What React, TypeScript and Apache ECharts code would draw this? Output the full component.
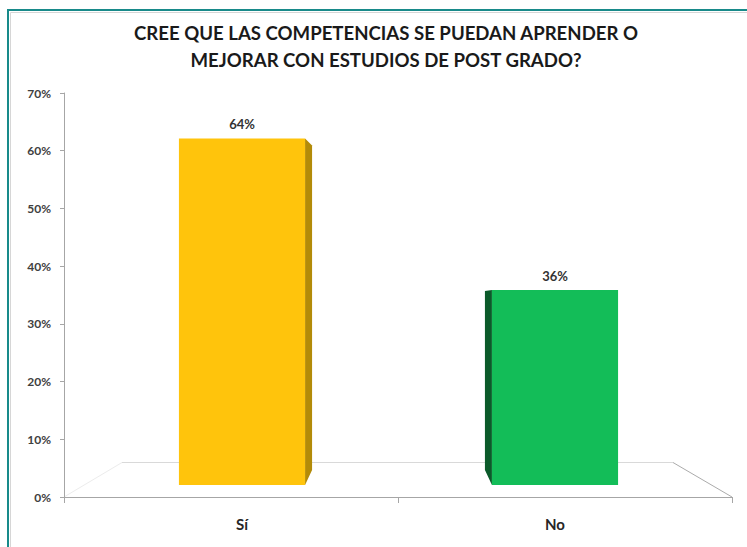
import React, { useEffect, useRef } from "react";
import * as echarts from "echarts";

// Survey answers and their shares (%)
const categories = ["Sí", "No"];
const shares = [64, 36];
const yTicks = [0, 10, 20, 30, 40, 50, 60, 70];

// Front / side face colours for each bar
const frontColors = ["#FFC40C", "#13BD58"];
const sideColors = ["#B38B08", "#0B5A2A"];

const titleText = "CREE QUE LAS COMPETENCIAS SE PUEDAN APRENDER O\nMEJORAR CON ESTUDIOS DE POST GRADO?";

export default function App() {
  const ref = useRef<HTMLDivElement>(null);

  useEffect(() => {
    if (!ref.current) return;
    const chart = echarts.init(ref.current, undefined, { renderer: "svg" });
    const font = "Lato, 'Open Sans', sans-serif";

    const option: any = {
      animation: false,
      backgroundColor: "#ffffff",
      title: {
        text: titleText,
        left: 381,
        top: 14,
        textAlign: "center",
        textStyle: {
          fontFamily: font,
          fontSize: 18.6,
          fontWeight: "bold",
          color: "#1a1a1a",
          lineHeight: 27,
        },
      },
      grid: [
        // visible axes (0% .. 70%)
        { left: 64, right: 15, top: 93, bottom: 50 },
        // bars, drawn in a slightly receding frame for the 3D look
        { left: 85.5, right: 35.5, top: 106, bottom: 62 },
      ],
      xAxis: [
        {
          type: "category",
          gridIndex: 0,
          data: categories,
          axisLine: { lineStyle: { color: "#a6a6a6", width: 1 } },
          axisTick: { show: true, length: 6, lineStyle: { color: "#a6a6a6" } },
          axisLabel: { show: false },
          splitLine: { show: false },
        },
        {
          type: "category",
          gridIndex: 1,
          data: categories,
          axisLine: { show: false },
          axisTick: { show: false },
          axisLabel: {
            margin: 31,
            fontFamily: font,
            fontSize: 15,
            fontWeight: "bold",
            color: "#262626",
          },
        },
      ],
      yAxis: [
        {
          type: "value",
          gridIndex: 0,
          min: yTicks[0],
          max: yTicks[yTicks.length - 1],
          interval: 10,
          axisLine: { show: true, lineStyle: { color: "#a6a6a6", width: 1 } },
          axisTick: { show: true, length: 4, lineStyle: { color: "#a6a6a6" } },
          splitLine: { show: false },
          axisLabel: {
            formatter: "{value}%",
            margin: 13,
            fontFamily: font,
            fontSize: 12,
            fontWeight: "bold",
            color: "#404040",
          },
        },
        {
          type: "value",
          gridIndex: 1,
          min: 0,
          max: 70,
          show: false,
          splitLine: { show: false },
        },
      ],
      graphic: [
        // frame
        {
          type: "rect",
          z: -10,
          shape: { x: 8, y: 10, width: 800, height: 600 },
          style: { fill: "none", stroke: "#188a8a", lineWidth: 2 },
        },
        {
          type: "polyline",
          z: -10,
          shape: { points: [[10.5, 600], [10.5, 12.5], [800, 12.5]] },
          style: { fill: "none", stroke: "#d6d6d6", lineWidth: 1 },
        },
        // floor of the 3D plot area
        {
          type: "polyline",
          z: -5,
          shape: { points: [[122, 462.5], [673, 462.5]] },
          style: { fill: "none", stroke: "#d9d9d9", lineWidth: 1 },
        },
        {
          type: "line",
          z: -5,
          shape: { x1: 673, y1: 462.5, x2: 732, y2: 497 },
          style: { stroke: "#ababab", lineWidth: 1 },
        },
        {
          type: "line",
          z: -5,
          shape: { x1: 122, y1: 462.5, x2: 64, y2: 497 },
          style: { stroke: "#ececec", lineWidth: 1 },
        },
      ],
      series: [
        {
          type: "custom",
          xAxisIndex: 1,
          yAxisIndex: 1,
          data: shares.map((v, i) => [i, v]),
          renderItem: (params: any, api: any) => {
            const idx = params.dataIndex;
            const v = api.value(1);
            const top = api.coord([api.value(0), v]);
            const base = api.coord([api.value(0), 0]);
            const band = api.size([1, 0])[0];
            const w = band * 0.403;
            const x0 = top[0] - w / 2;
            const x1 = top[0] + w / 2;
            const d = 7;
            const cs = params.coordSys;
            const sideRight = top[0] < cs.x + cs.width / 2;
            const side = sideRight
              ? [[x1, top[1]], [x1 + d, top[1] + d], [x1 + d, base[1] - 15], [x1, base[1]]]
              : [[x0, top[1]], [x0 - d, top[1] + 1], [x0 - d, base[1] - 15], [x0, base[1]]];
            return {
              type: "group",
              children: [
                {
                  type: "polygon",
                  shape: { points: side },
                  style: { fill: sideColors[idx] },
                },
                {
                  type: "rect",
                  shape: { x: x0, y: top[1], width: w, height: base[1] - top[1] },
                  style: { fill: frontColors[idx] },
                },
                {
                  type: "text",
                  style: {
                    text: v + "%",
                    x: top[0],
                    y: top[1] - 14,
                    align: "center",
                    verticalAlign: "middle",
                    fontFamily: font,
                    fontSize: 13,
                    fontWeight: "bold",
                    fill: "#333333",
                  },
                },
              ],
            };
          },
        },
      ],
    };

    chart.setOption(option);
    return () => chart.dispose();
  }, []);

  return (
    <div
      ref={ref}
      style={{ position: "absolute", left: 0, top: 0, width: 747, height: 547 }}
    />
  );
}
